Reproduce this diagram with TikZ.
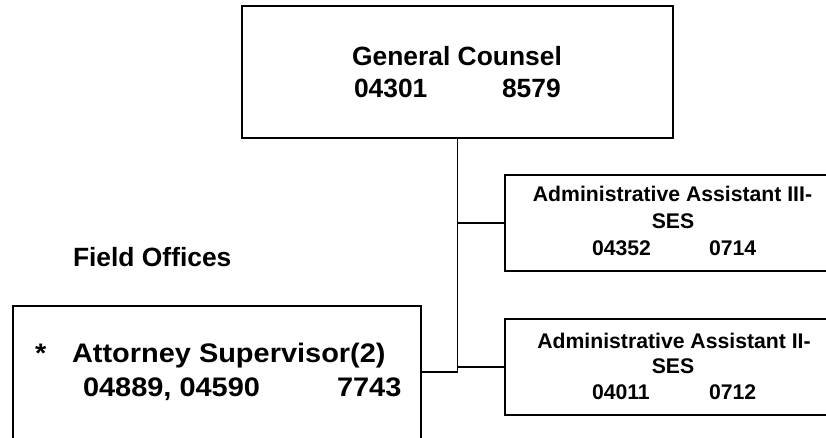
\documentclass[tikz,border=0pt]{standalone}
\usepackage{fontspec}
\setmainfont{Liberation Sans}
\newfontfamily\widesans[FakeStretch=1.08]{Liberation Sans}
\begin{document}
\begin{tikzpicture}[x=1pt,y=-1pt,
  box/.style={draw=black,line width=1.6pt,rectangle,inner sep=0pt,fill=none},
  link/.style={draw=black,line width=1.6pt},
  lbl/.style={inner sep=0pt,outer sep=0pt,font=\bfseries},
  big/.style={lbl,font=\fontsize{26.4}{30}\selectfont\bfseries},
  huge/.style={lbl,font=\widesans\fontsize{26.8}{31}\selectfont\bfseries},
  small/.style={lbl,font=\fontsize{21.2}{25}\selectfont\bfseries}]
\clip (0,0) rectangle (826,437);
\useasboundingbox (0,0) rectangle (826,437);

% boxes
\node[box,minimum width=431pt,minimum height=132pt] (gc) at (457.5,72) {};
\node[box,minimum width=335pt,minimum height=96pt] (a3) at (672.5,223) {};
\node[box,minimum width=335pt,minimum height=96pt] (a2) at (672.5,367) {};
\node[box,minimum width=408pt,minimum height=180pt] (att) at (217,396) {};

% connectors
\coordinate (j) at (gc.south |- 0,372);
\draw[link] (gc.south) -- (j) -- (j -| att.east);
\draw[link] (gc.south |- a3.west) -- (a3.west);
\draw[link] (gc.south |- a2.west) -- (a2.west);

% General Counsel
\node[big,anchor=base] (gct) at (457,65.7) {General Counsel};
\node[big,anchor=base west] (gcn) at (354,97.5) {04301};
\node[big,anchor=base west] (gcc) at (502,97.5) {8579};

% Field offices heading
\node[big,anchor=base west] (fo) at (73,266.7) {Field Offices};

% Attorney Supervisor
\node[huge,anchor=base west] (star) at (35,362.5) {*};
\node[huge,anchor=base west] (att1) at (72,362.5) {Attorney Supervisor(2)};
\node[huge,anchor=base west] (att2) at (83,396.7) {04889, 04590};
\node[huge,anchor=base west] (att3) at (337,396.7) {7743};

% Administrative Assistant III
\node[small,anchor=base] (a3t) at (672.5,201.7) {Administrative Assistant III-};
\node[small,anchor=base] (a3s) at (673,228) {SES};
\node[small,anchor=base west] (a3n) at (592,255) {04352};
\node[small,anchor=base west] (a3c) at (709,255) {0714};

% Administrative Assistant II
\node[small,anchor=base] (a2t) at (674,348) {Administrative Assistant II-};
\node[small,anchor=base] (a2s) at (673,373) {SES};
\node[small,anchor=base west] (a2n) at (592,399) {04011};
\node[small,anchor=base west] (a2c) at (709,399) {0712};
\end{tikzpicture}
\end{document}
